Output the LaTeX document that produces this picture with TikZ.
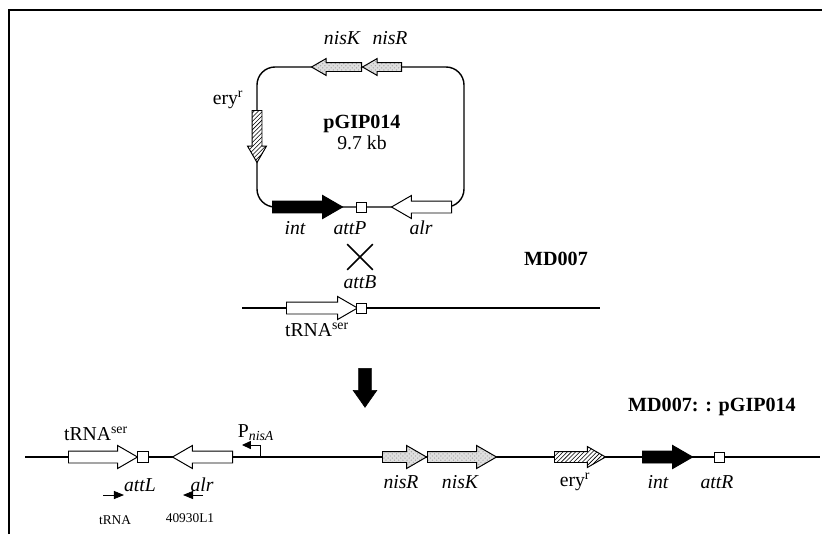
\documentclass[tikz,border=0pt]{standalone}
\usepackage{fontspec}
\setmainfont{Liberation Serif}
\usetikzlibrary{positioning, arrows.meta, shapes.arrows, shapes.misc, patterns}

\begin{document}
\begin{tikzpicture}[
    x=0.025cm, y=-0.025cm,
    dna/.style={line width=1pt},
    gene/.style={single arrow, draw, line width=0.7pt, inner xsep=0pt, minimum width=0pt, single arrow tip angle=60, anchor=tail, fill=white},
    bigarr/.style={inner ysep=0.1375cm, single arrow head extend=0.1375cm},
    midarr/.style={inner ysep=0.125cm, single arrow head extend=0.15cm},
    smallarr/.style={inner ysep=0.1cm, single arrow head extend=0.1cm},
    rev/.style={shape border rotate=180},
    downgene/.style={shape border rotate=270},
    nis/.style={fill=none, preaction={fill=gray!25}, pattern=crosshatch dots, pattern color=gray!70},
    ery/.style={fill=none, preaction={fill=white}, pattern=north east lines},
    intg/.style={fill=black},
    site/.style={draw, fill=white, line width=0.7pt, minimum size=0.25cm, inner sep=0pt},
    txt/.style={font=\fontsize{14}{16}\selectfont, inner sep=1pt},
    gtxt/.style={font=\fontsize{14}{16}\selectfont\itshape, inner sep=1pt},
    ttl/.style={font=\fontsize{14.3}{16}\selectfont\bfseries, inner sep=1pt},
    smalltxt/.style={font=\fontsize{9.5}{11}\selectfont, inner sep=1pt},
    primer/.style={line width=0.6pt, -{Triangle[length=0.25cm, width=0.2cm]}},
    prom/.style={line width=0.7pt, -{Triangle[length=0.22cm, width=0.2cm]}}
]

\useasboundingbox (0,0) rectangle (822,534);

% frame
\draw[line width=0.9pt] (9,534) -- (9,10) -- (822,10);

% pGIP014 plasmid
\draw[dna, rounded corners=0.45cm] (257,67) rectangle (464,207);
\node[gene, smallarr, nis, rev, minimum height=1.25cm] (nisKp) at (362,67) {};
\node[gene, smallarr, nis, rev, minimum height=0.975cm] (nisRp) at (402,67) {};
\node[gene, inner xsep=0.1125cm, inner ysep=0pt, single arrow head extend=0.1125cm, ery, downgene, minimum height=1.3cm] (eryp) at (257,110) {};
\node[gene, bigarr, intg, minimum height=1.75cm] (intp) at (272,207) {};
\node[site] (attP) at (361,207) {};
\node[gene, bigarr, rev, minimum height=1.5cm] (alrp) at (452,207) {};

\node[gtxt] (nisKp_l) at (342,38) {nisK};
\node[gtxt] (nisRp_l) at (390,38) {nisR};
\node[txt] (eryp_l) at (228,100) {ery\textsuperscript{r}};
\node[ttl] (pgip) at (362,124) {pGIP014};
\node[txt, below=0pt of pgip] (size) {9.7 kb};
\node[gtxt] (intp_l) at (295,228) {int};
\node[gtxt] (attP_l) at (350,228) {attP};
\node[gtxt] (alrp_l) at (421,228) {alr};

% recombination with MD007
\node[cross out, draw, line width=1.2pt, minimum size=0.6cm] (cross) at (360,257) {};
\node[gtxt] (attB_l) at (360,282) {attB};
\node[ttl] (md) at (556,259) {MD007};
\coordinate (md_l) at (242,308);
\coordinate (md_r) at (600,308);
\draw[dna] (md_l) -- (md_r);
\node[gene, bigarr, minimum height=1.775cm] (trna) at (286,308) {};
\node[site] (attB) at (361,308) {};
\node[txt] (trna_l) at (317,330) {tRNA\textsuperscript{ser}};

% integration
\node[single arrow, draw, fill=black, inner xsep=0.15cm, inner ysep=0pt, minimum width=0pt, single arrow head extend=0.14cm, single arrow tip angle=70, shape border rotate=270, anchor=tail, minimum height=0.975cm] (down) at (365,368) {};

% MD007::pGIP014 chromosome
\node[ttl] (mdint) at (712,407) {MD007: : pGIP014};
\coordinate (ch_l) at (25,457);
\coordinate (ch_r) at (820,457);
\draw[dna] (ch_l) -- (ch_r);
\node[gene, bigarr, minimum height=1.725cm] (trnac) at (68,457) {};
\node[site, minimum size=0.275cm] (attL) at (143,457) {};
\node[gene, bigarr, rev, minimum height=1.5cm] (alrc) at (233,457) {};
\coordinate (pnis) at (260,457);
\coordinate (pnis_end) at (242,445);
\draw[prom] (pnis) |- (pnis_end);
\node[gene, midarr, nis, minimum height=1.1cm] (nisRc) at (382,457) {};
\node[gene, midarr, nis, minimum height=1.725cm] (nisKc) at (427,457) {};
\node[gene, inner ysep=0.125cm, single arrow head extend=0.125cm, ery, minimum height=1.275cm] (eryc) at (554,457) {};
\node[gene, bigarr, intg, minimum height=1.25cm] (intc) at (642,457) {};
\node[site] (attR) at (719,457) {};

\node[txt] (trnac_l) at (96,434) {tRNA\textsuperscript{ser}};
\node[txt] (pnis_l) at (256,433) {P\textsubscript{\itshape nisA}};
\node[gtxt] (attL_l) at (140,485) {attL};
\node[gtxt] (alrc_l) at (202,485) {alr};
\node[gtxt] (nisRc_l) at (401,482) {nisR};
\node[gtxt] (nisKc_l) at (460,482) {nisK};
\node[txt] (eryc_l) at (575,482) {ery\textsuperscript{r}};
\node[gtxt] (intc_l) at (658,482) {int};
\node[gtxt] (attR_l) at (717,482) {attR};

% primers
\coordinate (p1a) at (103,495);
\coordinate (p1b) at (124,495);
\coordinate (p2a) at (203,495);
\coordinate (p2b) at (183,495);
\draw[primer] (p1a) -- (p1b);
\draw[primer] (p2a) -- (p2b);
\node[smalltxt] (p1_l) at (115,520) {tRNA};
\node[smalltxt] (p2_l) at (190,518) {40930L1};

\end{tikzpicture}
\end{document}
